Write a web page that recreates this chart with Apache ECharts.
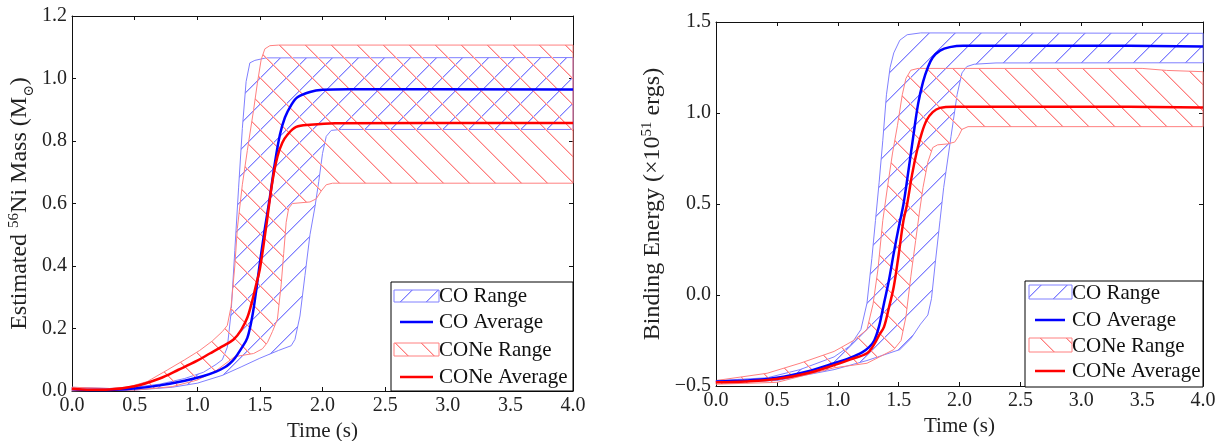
<!DOCTYPE html>
<html>
<head>
<meta charset="utf-8">
<script src="https://cdn.jsdelivr.net/npm/echarts@6/dist/echarts.min.js"></script>
<style>
  html, body { margin: 0; padding: 0; background: #fff; }
  #chart { width: 1222px; height: 441px; }
</style>
</head>
<body>
<div id="chart"></div>
<script>
// ---- Estimated 56Ni mass (solar masses) vs time (s) ----
const niCoAvg = [[0,0.006],[0.15,0.003],[0.3,0.003],[0.5,0.008],[0.7,0.018],[0.9,0.033],[1.05,0.048],[1.15,0.062],[1.22,0.076],[1.26,0.088],[1.3,0.105],[1.35,0.135],[1.4,0.17],[1.44,0.24],[1.47,0.32],[1.5,0.41],[1.54,0.52],[1.58,0.62],[1.62,0.73],[1.66,0.82],[1.7,0.875],[1.75,0.915],[1.8,0.94],[1.9,0.957],[2.0,0.964],[2.2,0.966],[4.0,0.965]];
const niConeAvg = [[0,0.007],[0.15,0.004],[0.3,0.005],[0.5,0.015],[0.7,0.04],[0.85,0.068],[1.0,0.097],[1.1,0.12],[1.2,0.143],[1.29,0.165],[1.35,0.195],[1.4,0.235],[1.44,0.29],[1.47,0.34],[1.5,0.39],[1.55,0.525],[1.6,0.67],[1.64,0.75],[1.68,0.795],[1.72,0.82],[1.79,0.845],[1.9,0.852],[2.1,0.857],[4.0,0.858]];
const niCoHigh = [[0,0.012],[0.3,0.008],[0.5,0.012],[0.7,0.022],[0.9,0.04],[1.05,0.06],[1.15,0.085],[1.2,0.1],[1.24,0.14],[1.27,0.25],[1.3,0.45],[1.33,0.65],[1.36,0.84],[1.39,0.99],[1.42,1.05],[1.46,1.058],[1.55,1.066],[4.0,1.067]];
const niCoLow = [[0,0.001],[0.5,0.003],[0.8,0.012],[1.0,0.025],[1.2,0.05],[1.35,0.077],[1.5,0.105],[1.65,0.13],[1.75,0.145],[1.78,0.165],[1.82,0.24],[1.86,0.37],[1.9,0.5],[1.94,0.59],[1.97,0.67],[2.0,0.76],[2.03,0.815],[2.07,0.834],[2.15,0.837],[4.0,0.837]];
const niConeHigh = [[0,0.012],[0.3,0.008],[0.45,0.013],[0.6,0.03],[0.76,0.067],[0.9,0.1],[1.02,0.13],[1.12,0.16],[1.2,0.19],[1.24,0.21],[1.27,0.27],[1.3,0.4],[1.32,0.52],[1.36,0.66],[1.4,0.77],[1.45,0.9],[1.48,0.985],[1.51,1.06],[1.54,1.095],[1.58,1.105],[1.65,1.107],[4.0,1.107]];
const niConeLow = [[0,0.001],[0.5,0.003],[0.8,0.014],[1.0,0.035],[1.15,0.065],[1.25,0.095],[1.3,0.11],[1.45,0.12],[1.52,0.135],[1.56,0.155],[1.6,0.19],[1.64,0.23],[1.67,0.34],[1.69,0.44],[1.71,0.54],[1.73,0.585],[1.76,0.6],[1.9,0.605],[1.95,0.615],[1.99,0.64],[2.03,0.66],[2.08,0.665],[4.0,0.665]];

// ---- Binding energy (1e51 ergs) vs time (s) ----
const beCoAvg = [[0,-0.475],[0.25,-0.47],[0.5,-0.455],[0.75,-0.42],[0.97,-0.375],[1.1,-0.345],[1.2,-0.315],[1.26,-0.285],[1.3,-0.25],[1.34,-0.17],[1.38,-0.045],[1.42,0.08],[1.46,0.23],[1.5,0.37],[1.54,0.5],[1.58,0.68],[1.62,0.87],[1.66,1.05],[1.7,1.17],[1.74,1.25],[1.78,1.305],[1.84,1.343],[1.92,1.362],[2.03,1.37],[3.0,1.37],[4.0,1.365]];
const beConeAvg = [[0,-0.48],[0.25,-0.475],[0.5,-0.462],[0.75,-0.43],[0.97,-0.385],[1.1,-0.355],[1.24,-0.32],[1.3,-0.27],[1.34,-0.22],[1.38,-0.175],[1.42,-0.07],[1.46,0.045],[1.5,0.22],[1.54,0.41],[1.57,0.5],[1.61,0.66],[1.65,0.79],[1.69,0.89],[1.73,0.96],[1.78,1.005],[1.84,1.028],[1.95,1.035],[3.0,1.035],[4.0,1.03]];
const beCoHigh = [[0,-0.47],[0.42,-0.455],[0.69,-0.41],[0.97,-0.34],[1.1,-0.28],[1.19,-0.19],[1.24,-0.045],[1.28,0.2],[1.31,0.41],[1.34,0.62],[1.37,0.85],[1.4,1.1],[1.43,1.25],[1.46,1.33],[1.51,1.4],[1.57,1.43],[1.68,1.44],[4.0,1.438]];
const beCoLow = [[0,-0.48],[0.5,-0.47],[0.97,-0.41],[1.24,-0.36],[1.51,-0.3],[1.6,-0.24],[1.68,-0.16],[1.74,-0.11],[1.77,-0.02],[1.8,0.17],[1.84,0.41],[1.87,0.59],[1.93,0.87],[1.98,1.1],[2.02,1.22],[2.06,1.255],[2.12,1.268],[2.3,1.275],[4.0,1.276]];
const beConeHigh = [[0,-0.47],[0.42,-0.43],[0.69,-0.375],[0.97,-0.31],[1.13,-0.25],[1.24,-0.19],[1.29,-0.05],[1.33,0.14],[1.37,0.41],[1.41,0.6],[1.45,0.78],[1.49,0.93],[1.53,1.1],[1.56,1.19],[1.6,1.235],[1.66,1.245],[3.5,1.245],[3.7,1.234],[4.0,1.227]];
const beConeLow = [[0,-0.49],[0.5,-0.48],[0.97,-0.4],[1.24,-0.375],[1.46,-0.3],[1.52,-0.25],[1.56,-0.12],[1.6,0.1],[1.64,0.3],[1.67,0.45],[1.7,0.59],[1.74,0.73],[1.78,0.81],[1.82,0.825],[1.9,0.83],[1.96,0.84],[1.99,0.87],[2.02,0.91],[2.07,0.925],[4.0,0.925]];

const legendNames = ['CO Range', 'CO Average', 'CONe Range', 'CONe Average'];
const timeRange = [0, 4, 0.5];
const niRange = [0, 1.2, 0.2];
const beRange = [-0.5, 1.5, 0.5];

const SERIF = '"Liberation Serif", "DejaVu Serif", serif';
const coLine = '#0000ff', coneLine = '#ff0000';
const coFaint = '#8080ff', coneFaint = '#ff8080';
const coSoft = '#c4c4ff', coneSoft = '#ffc4c4';

// Repeating diagonal hatch tile drawn pixel by pixel for crisp 45-degree lines,
// with a pale companion pixel to soften the staircase:
// '/' rises to the right, '\' falls to the right
function hatch(color, soft, dir) {
  const s = 26;
  const c = document.createElement('canvas');
  c.width = s; c.height = s;
  const g = c.getContext('2d');
  for (let i = 0; i < s; i++) {
    const y = dir === '/' ? s - 1 - i : i;
    g.fillStyle = soft;
    g.fillRect((i + 1) % s, y, 1, 1);
    g.fillStyle = color;
    g.fillRect(i, y, 1, 1);
  }
  return { image: c, repeat: 'repeat' };
}
const coHatch = hatch(coFaint, coSoft, '/');
const coneHatch = hatch(coneFaint, coneSoft, '\\');

// Filled band between a lower and an upper curve, placed by the axis scales
function band(name, xi, upper, lower, fill, stroke) {
  return {
    name, type: 'custom', xAxisIndex: xi, yAxisIndex: xi, silent: true, z: 1,
    data: [[upper[0][0], upper[0][1]]],
    renderItem: function (params, api) {
      const pts = [];
      upper.forEach(p => pts.push(api.coord(p)));
      for (let i = lower.length - 1; i >= 0; i--) pts.push(api.coord(lower[i]));
      return { type: 'polygon', shape: { points: pts }, style: { fill: fill, stroke: stroke, lineWidth: 1 } };
    }
  };
}
function curve(name, xi, data, color) {
  return {
    name, type: 'line', xAxisIndex: xi, yAxisIndex: xi, data, showSymbol: false, silent: true,
    smooth: 0.35, z: 3,
    lineStyle: { color, width: 2.5 }
  };
}

const axisLine = { show: true, onZero: false, lineStyle: { color: '#111', width: 1 } };
const tick = { show: true, inside: true, length: 4, lineStyle: { color: '#111', width: 1 } };
const fmt = v => (v < 0 ? '\u2212' : '') + Math.abs(v).toFixed(1);
const labelStyle = { fontFamily: SERIF, fontSize: 20, color: '#222', formatter: fmt };
const richName = {
  sup: { fontFamily: SERIF, fontSize: 15, verticalAlign: 'top', lineHeight: 15, color: '#222' },
  sub: { fontFamily: '"DejaVu Serif", serif', fontSize: 14, verticalAlign: 'bottom', lineHeight: 12, color: '#222', padding: [0, 0, -3, 0] }
};

function xAxes(gi, gap) {
  return [
    { gridIndex: gi, type: 'value', min: timeRange[0], max: timeRange[1], interval: timeRange[2], position: 'bottom',
      name: 'Time (s)', nameLocation: 'middle', nameGap: gap,
      nameTextStyle: { fontFamily: SERIF, fontSize: 21, color: '#222' },
      axisLine, axisTick: tick, splitLine: { show: false },
      axisLabel: Object.assign({ margin: 5 }, labelStyle) },
    { gridIndex: gi, type: 'value', min: timeRange[0], max: timeRange[1], interval: timeRange[2], position: 'top',
      axisLine, axisTick: tick, splitLine: { show: false }, axisLabel: { show: false } }
  ];
}
function yAxes(gi, r, name, gap) {
  return [
    { gridIndex: gi, type: 'value', min: r[0], max: r[1], interval: r[2], position: 'left',
      name, nameLocation: 'middle', nameGap: gap,
      nameTextStyle: { fontFamily: SERIF, fontSize: 24, color: '#222', lineHeight: 26, rich: richName },
      axisLine, axisTick: tick, splitLine: { show: false },
      axisLabel: Object.assign({ margin: 5 }, labelStyle) },
    { gridIndex: gi, type: 'value', min: r[0], max: r[1], interval: r[2], position: 'right',
      axisLine, axisTick: tick, splitLine: { show: false }, axisLabel: { show: false } }
  ];
}

// Legend boxes drawn as graphic elements so the hatched swatches match the bands
function legendBox(box, patchX, patchW, rows, patchRows, lineX, textX) {
  const els = [{ type: 'rect', shape: box, style: { fill: '#fff', stroke: '#000', lineWidth: 1 }, z: 100 }];
  els.push({ type: 'rect', shape: { x: patchX, y: patchRows[0][0], width: patchW, height: patchRows[0][1] }, style: { fill: coHatch, stroke: coFaint, lineWidth: 1 }, z: 101 });
  els.push({ type: 'line', shape: { x1: lineX[0], y1: rows[1], x2: lineX[1], y2: rows[1] }, style: { stroke: coLine, lineWidth: 2.5 }, z: 101 });
  els.push({ type: 'rect', shape: { x: patchX, y: patchRows[1][0], width: patchW, height: patchRows[1][1] }, style: { fill: coneHatch, stroke: coneFaint, lineWidth: 1 }, z: 101 });
  els.push({ type: 'line', shape: { x1: lineX[0], y1: rows[3], x2: lineX[1], y2: rows[3] }, style: { stroke: coneLine, lineWidth: 2.5 }, z: 101 });
  legendNames.forEach((n, i) => {
    els.push({ type: 'text', x: textX, y: rows[i], z: 102,
      style: { text: n, fontFamily: SERIF, fontSize: 21, fill: '#111', verticalAlign: 'middle', align: 'left' } });
  });
  return els;
}

const chart = echarts.init(document.getElementById('chart'), null, { renderer: 'canvas' });
chart.setOption({
  animation: false,
  backgroundColor: '#fff',
  grid: [
    { left: 72, top: 16, width: 501, height: 375, outerBoundsMode: 'none', containLabel: false },
    { left: 716, top: 22, width: 487, height: 364, outerBoundsMode: 'none', containLabel: false }
  ],
  xAxis: xAxes(0, 30).concat(xAxes(1, 28)),
  yAxis: yAxes(0, niRange, 'Estimated {sup|56}Ni Mass (M{sub|\u2299})', 39)
    .concat(yAxes(1, beRange, 'Binding Energy (\u00d710{sup|51} ergs)', 50)),
  series: [
    band(legendNames[0], 0, niCoHigh, niCoLow, coHatch, coFaint),
    band(legendNames[2], 0, niConeHigh, niConeLow, coneHatch, coneFaint),
    curve(legendNames[1], 0, niCoAvg, coLine),
    curve(legendNames[3], 0, niConeAvg, coneLine),
    band(legendNames[0], 2, beCoHigh, beCoLow, coHatch, coFaint),
    band(legendNames[2], 2, beConeHigh, beConeLow, coneHatch, coneFaint),
    curve(legendNames[1], 2, beCoAvg, coLine),
    curve(legendNames[3], 2, beConeAvg, coneLine)
  ],
  graphic: legendBox({ x: 391, y: 282, width: 182, height: 109 }, 394, 45, [296, 322, 350, 377], [[290, 12], [343, 13]], [400, 433], 439)
    .concat(legendBox({ x: 1025, y: 281, width: 178, height: 106 }, 1029, 43, [293, 320, 346, 371], [[285, 14], [338, 14]], [1035, 1065], 1072))
});
</script>
</body>
</html>
